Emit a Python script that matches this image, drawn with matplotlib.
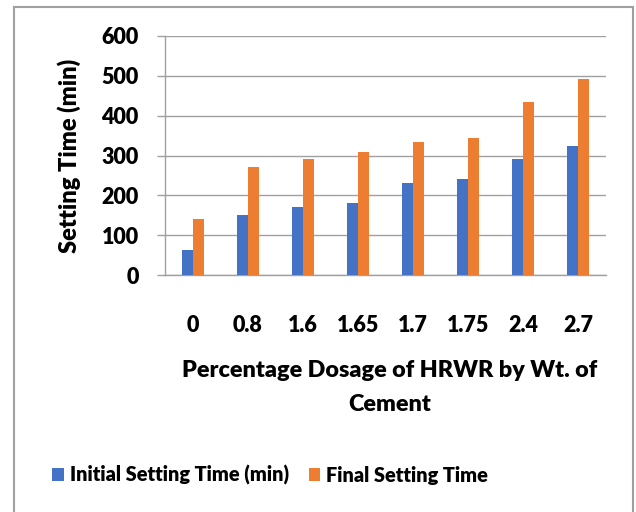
import numpy as np
import matplotlib
matplotlib.use('Agg')
import matplotlib.pyplot as plt
from matplotlib.patches import Rectangle

# HRWR dosage (% by wt. of cement) and setting times (min)
dosage = ['0', '0.8', '1.6', '1.65', '1.7', '1.75', '2.4', '2.7']
initial_setting = [62, 150, 170, 180, 230, 240, 290, 325]
final_setting = [140, 270, 290, 308, 335, 345, 435, 493]

plt.rcParams['font.family'] = ['Lato', 'DejaVu Sans']
plt.rcParams['font.weight'] = 'heavy'

fig = plt.figure(figsize=(6.36, 5.12), dpi=100)
fig.patches.append(Rectangle((14 / 636, -0.01), 619 / 636, 1 - 7 / 512 + 0.01,
                             transform=fig.transFigure, fill=False,
                             edgecolor='#A0A0A0', lw=1.5))

ax = fig.add_axes([165 / 636, 1 - 275 / 512, 441 / 636, 239 / 512])

x = np.arange(len(dosage))
w = 0.2
ax.bar(x - w / 2, initial_setting, w, color='#4472C4', label='Initial Setting Time (min)', zorder=3)
ax.bar(x + w / 2, final_setting, w, color='#ED7D31', label='Final Setting Time', zorder=3)

ax.set_xlim(-0.5, len(dosage) - 0.5)
ax.set_ylim(0, 600)
ax.set_yticks(range(0, 601, 100))
ax.set_xticks(x)
ax.set_xticklabels(dosage)

ax.grid(axis='y', color='#A0A0A0', lw=1, zorder=0)
for s in ['top', 'right']:
    ax.spines[s].set_visible(False)
for s in ['left', 'bottom']:
    ax.spines[s].set_color('#A0A0A0')
    ax.spines[s].set_linewidth(1)

ax.tick_params(axis='y', length=6, width=1, color='#A0A0A0', pad=13, labelsize=15.5)
ax.tick_params(axis='x', length=0, pad=29, labelsize=15.5)

ax.set_ylabel('Setting Time (min)', fontsize=17, fontweight='heavy')
ax.yaxis.set_label_coords(-0.19, 0.5)
ax.set_xlabel('Percentage Dosage of HRWR by Wt. of\nCement', fontsize=16.8, fontweight='heavy',
              linespacing=1.8)
ax.xaxis.set_label_coords(0.51, -0.355)

ax.legend(loc='center', bbox_to_anchor=(270 / 636, 1 - 475 / 512), bbox_transform=fig.transFigure,
          ncol=2, frameon=False, fontsize=14.3, handlelength=0.6, handleheight=0.6,
          handletextpad=0.3, columnspacing=1.0)

fig.savefig('out.png', dpi=100)
